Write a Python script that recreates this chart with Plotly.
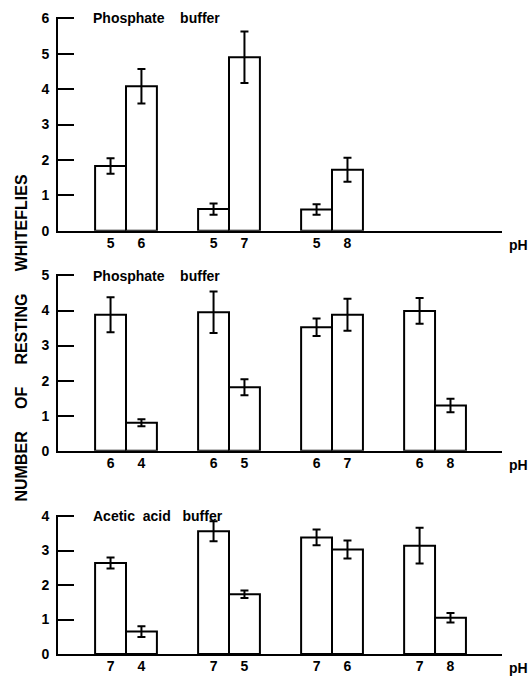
import plotly.graph_objects as go

# ---------------- data ----------------
top_title = "Phosphate\u00a0\u00a0\u00a0\u00a0buffer"
top_ph_first = ["5", "5", "5"]
top_ph_second = ["6", "7", "8"]
top_first = [1.83, 0.61, 0.60]
top_first_err = [0.22, 0.16, 0.15]
top_second = [4.08, 4.90, 1.72]
top_second_err = [0.49, 0.73, 0.34]

mid_title = "Phosphate\u00a0\u00a0\u00a0\u00a0buffer"
mid_ph_first = ["6", "6", "6", "6"]
mid_ph_second = ["4", "5", "7", "8"]
mid_first = [3.88, 3.95, 3.52, 3.99]
mid_first_err = [0.50, 0.59, 0.25, 0.37]
mid_second = [0.80, 1.81, 3.88, 1.29]
mid_second_err = [0.10, 0.23, 0.46, 0.19]

bot_title = "Acetic\u00a0\u00a0acid\u00a0\u00a0\u00a0buffer"
bot_ph_first = ["7", "7", "7", "7"]
bot_ph_second = ["4", "5", "6", "8"]
bot_first = [2.64, 3.56, 3.38, 3.14]
bot_first_err = [0.16, 0.29, 0.23, 0.52]
bot_second = [0.65, 1.73, 3.03, 1.05]
bot_second_err = [0.155, 0.11, 0.26, 0.14]

y_label = "\u00a0\u00a0\u00a0\u00a0\u00a0".join(["NUMBER", "OF", "RESTING", "WHITEFLIES"])

# ---------------- style ----------------
FONT = "Liberation Sans, Arial, sans-serif"
BAR_W = 0.30
W, H = 530, 678
AX_L, AX_R = 58, 502          # x pixel span of the axes
TICK_LEN = 16                 # length of the inward y ticks
X_DOMAIN = [AX_L / W, AX_R / W]
X_RANGE = [-0.66, 3.65]
PAD = 0.04                    # tiny headroom so the top tick is not clipped

panels = [
    dict(title=top_title, ph1=top_ph_first, ph2=top_ph_second, v1=top_first, e1=top_first_err,
         v2=top_second, e2=top_second_err, ymax=6, px=(18.3, 230.7)),
    dict(title=mid_title, ph1=mid_ph_first, ph2=mid_ph_second, v1=mid_first, e1=mid_first_err,
         v2=mid_second, e2=mid_second_err, ymax=5, px=(275.5, 450.7)),
    dict(title=bot_title, ph1=bot_ph_first, ph2=bot_ph_second, v1=bot_first, e1=bot_first_err,
         v2=bot_second, e2=bot_second_err, ymax=4, px=(516, 654)),
]

fig = go.Figure()
annotations = []
layout = {}
tickfont = dict(family=FONT, size=14, color="black", weight="bold")

for k, p in enumerate(panels):
    sfx = "" if k == 0 else str(k + 1)
    xa, ya = "x" + sfx, "y" + sfx
    top_px, bot_px = p["px"]
    ppu = (bot_px - top_px) / p["ymax"]
    dom = [1 - bot_px / H, 1 - (top_px - PAD * ppu) / H]
    yrange = [0, p["ymax"] + PAD]
    n = len(p["v1"])
    x1 = [i - BAR_W / 2 for i in range(n)]
    x2 = [i + BAR_W / 2 for i in range(n)]
    for xs, vs, es in [(x1, p["v1"], p["e1"]), (x2, p["v2"], p["e2"])]:
        fig.add_trace(go.Bar(
            x=xs, y=vs, width=BAR_W, xaxis=xa, yaxis=ya,
            marker=dict(color="white", line=dict(color="black", width=2)),
            error_y=dict(type="data", array=es, visible=True, color="black",
                         thickness=2, width=4),
            showlegend=False, hoverinfo="skip",
        ))
    tickvals, ticktext = [], []
    for i in range(n):
        tickvals += [x1[i], x2[i]]
        ticktext += [p["ph1"][i], p["ph2"][i]]
    layout["xaxis" + sfx] = dict(
        domain=X_DOMAIN, range=X_RANGE, anchor=ya, showline=True, linewidth=2,
        linecolor="black", ticks="", tickvals=tickvals, ticktext=ticktext,
        tickfont=tickfont, showgrid=False, zeroline=False, ticklabelstandoff=-2,
        automargin=False, fixedrange=True,
    )
    layout["yaxis" + sfx] = dict(
        domain=dom, range=yrange, anchor=xa, showline=True, linewidth=2,
        linecolor="black", ticks="inside", ticklen=TICK_LEN, tickwidth=2,
        tickcolor="black", tickmode="linear", dtick=1, tick0=0,
        tickfont=tickfont, showgrid=False, zeroline=False, ticklabelstandoff=4,
        automargin=False, fixedrange=True,
    )
    # narrow companion subplot: its y grid lines act as the inward tick marks
    axn = str(k + 4)
    layout["xaxis" + axn] = dict(
        domain=[AX_L / W, (AX_L + TICK_LEN) / W], range=[0, 1], anchor="y" + axn,
        visible=False, fixedrange=True,
    )
    layout["yaxis" + axn] = dict(
        domain=dom, range=yrange, anchor="x" + axn, tickmode="linear", dtick=1, tick0=0,
        showgrid=True, gridcolor="black", gridwidth=2, showticklabels=False,
        ticks="", showline=False, zeroline=False, automargin=False, fixedrange=True,
    )
    fig.add_trace(go.Scatter(
        x=[0.5], y=[0], xaxis="x" + axn, yaxis="y" + axn, mode="markers",
        marker=dict(opacity=0), showlegend=False, hoverinfo="skip",
    ))
    annotations.append(dict(
        text=p["title"], xref="paper", yref="paper", x=91 / W, y=1 - top_px / H,
        xanchor="left", yanchor="middle", showarrow=False, font=tickfont,
    ))
    annotations.append(dict(
        text="pH", xref="paper", yref="paper", x=507 / W, y=dom[0],
        xanchor="left", yanchor="top", yshift=-4, showarrow=False, font=tickfont,
    ))

annotations.append(dict(
    text=y_label, xref="paper", yref="paper", x=21 / W, y=1 - 338.5 / H,
    xanchor="center", yanchor="middle", textangle=-90, showarrow=False,
    font=dict(family=FONT, size=16, color="black", weight="bold"),
))

fig.update_layout(
    template="none",
    width=W, height=H, margin=dict(l=0, r=0, t=0, b=0, autoexpand=False),
    paper_bgcolor="white", plot_bgcolor="white",
    font=dict(family=FONT, color="black"),
    barmode="overlay", showlegend=False, annotations=annotations, **layout,
)

fig.write_html("out.html", config={"displayModeBar": False})
